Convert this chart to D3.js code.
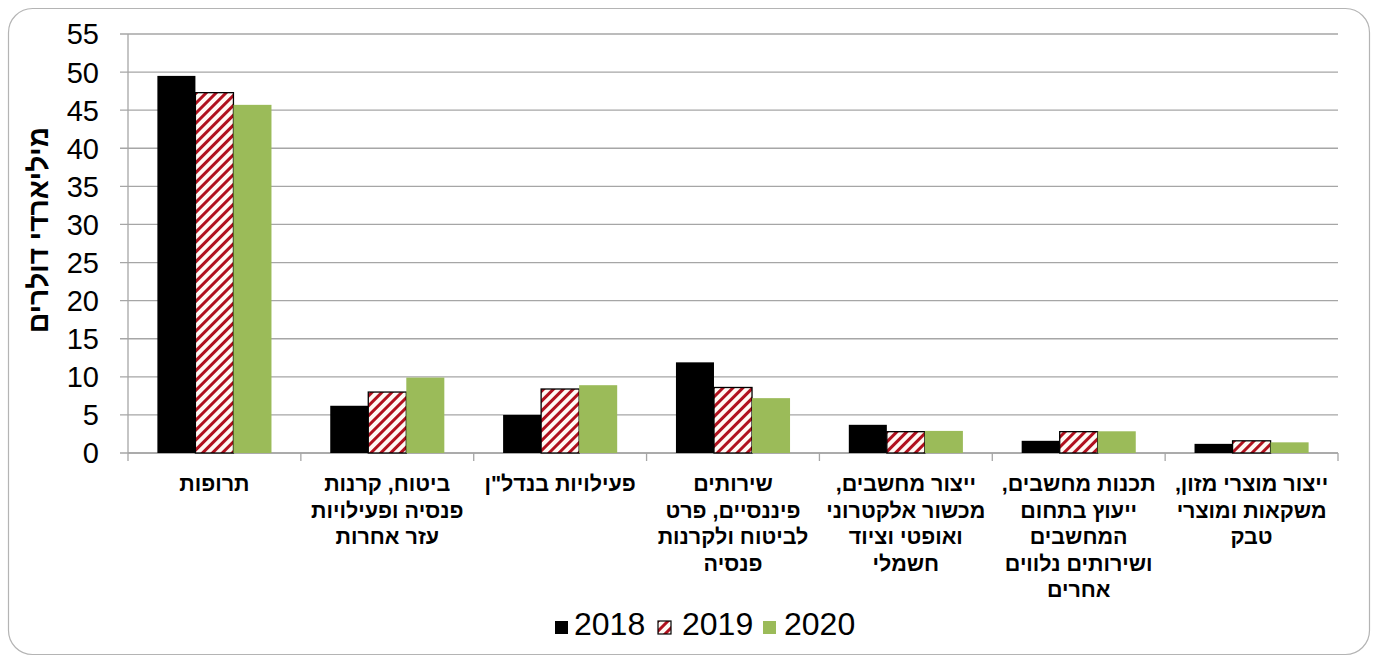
<!DOCTYPE html>
<html><head><meta charset="utf-8">
<script src="https://cdn.jsdelivr.net/npm/d3@7"></script>
<style>body{margin:0;background:#fff}svg{display:block}</style>
</head><body>
<svg id="c" width="1378" height="662"></svg>
<script>
const categories = [
  ["תרופות"],
  ["ביטוח, קרנות","פנסיה ופעילויות","עזר אחרות"],
  ["פעילויות בנדל\"ן"],
  ["שירותים","פיננסיים, פרט","לביטוח ולקרנות","פנסיה"],
  ["ייצור מחשבים,","מכשור אלקטרוני","ואופטי וציוד","חשמלי"],
  ["תכנות מחשבים,","ייעוץ בתחום","המחשבים","ושירותים נלווים","אחרים"],
  ["ייצור מוצרי מזון,","משקאות ומוצרי","טבק"]
];
const seriesNames = ["2018","2019","2020"];
const v2018 = [49.5, 6.2, 5.0, 11.9, 3.7, 1.6, 1.2];
const v2019 = [47.3, 8.0, 8.4, 8.6, 2.8, 2.8, 1.6];
const v2020 = [45.7, 9.9, 8.9, 7.2, 2.9, 2.85, 1.4];
const yTicks = [0,5,10,15,20,25,30,35,40,45,50,55];
const yTitle = "מיליארדי דולרים";

(function(){
const series = [v2018, v2019, v2020];
const fills = ["#000000", "url(#hatch)", "#9bbb59"];
const font = "'Liberation Sans', Arial, sans-serif";

const svg = d3.select("#c");
const defs = svg.append("defs");
const pat = defs.append("pattern").attr("id","hatch").attr("patternUnits","userSpaceOnUse")
  .attr("width",7).attr("height",7).attr("patternTransform","rotate(45)");
pat.append("rect").attr("width",7).attr("height",7).attr("fill","#fffaf5");
pat.append("rect").attr("x",0).attr("width",3).attr("height",7).attr("fill","#b0111e");

svg.append("rect").attr("x",8.5).attr("y",8.5).attr("width",1361).attr("height",646)
  .attr("rx",24).attr("fill","#fff").attr("stroke","#b4b4b4").attr("stroke-width",1.2);

const pL = 128, pR = 1338, pT = 34, pB = 453;
const x0 = d3.scaleBand().domain(d3.range(categories.length)).range([pL,pR]).padding(0);
const groupW = x0.bandwidth()*0.66;
const x1 = d3.scaleBand().domain(d3.range(3)).range([0,groupW]).padding(0);
const y = d3.scaleLinear().domain([0,55]).range([pB,pT]);

const g = svg.append("g");
g.selectAll("line.grid").data(yTicks).join("line")
  .attr("x1",pL-8).attr("x2",pR).attr("y1",d=>y(d)).attr("y2",d=>y(d))
  .attr("stroke","#a6a6a6").attr("stroke-width",1.3);
g.append("line").attr("x1",pL).attr("x2",pL).attr("y1",pT).attr("y2",pB)
  .attr("stroke","#a6a6a6").attr("stroke-width",1.3);
g.selectAll("text.yt").data(yTicks).join("text")
  .attr("x",99).attr("y",d=>y(d)).attr("dy","0.36em")
  .attr("text-anchor","end").attr("font-family",font).attr("font-size",29)
  .attr("fill","#000").text(d=>d);

categories.forEach((c,i)=>{
  const gx = x0(i) + (x0.bandwidth()-groupW)/2;
  series.forEach((s,j)=>{
    svg.append("rect").attr("x",gx+x1(j)).attr("y",y(s[i]))
      .attr("width",x1.bandwidth()).attr("height",y(0)-y(s[i]))
      .attr("fill",fills[j])
      .attr("stroke", j===1 ? "#000" : "none").attr("stroke-width", j===1 ? 1.3 : 0);
  });
});

g.append("line").attr("x1",pL).attr("x2",pR).attr("y1",pB).attr("y2",pB)
  .attr("stroke","#a6a6a6").attr("stroke-width",1.3);
const bounds = d3.range(categories.length+1).map(i => i<categories.length ? x0(i) : pR);
g.selectAll("line.xt").data(bounds).join("line")
  .attr("x1",d=>d).attr("x2",d=>d).attr("y1",pB).attr("y2",pB+8)
  .attr("stroke","#a6a6a6").attr("stroke-width",1.3);

categories.forEach((lines,i)=>{
  const cx = x0(i) + x0.bandwidth()/2;
  const t = svg.append("text").attr("text-anchor","middle").attr("direction","rtl")
    .attr("font-family",font).attr("font-size",21.5).attr("font-weight","bold").attr("fill","#000");
  lines.forEach((l,k)=>{
    t.append("tspan").attr("x",cx).attr("y",491 + k*26.5).text(l);
  });
});

svg.append("text").attr("transform","translate(48,230) rotate(-90)")
  .attr("text-anchor","middle").attr("direction","rtl")
  .attr("font-family",font).attr("font-size",28).attr("font-weight","bold")
  .attr("fill","#000").text(yTitle);

const legSq = [555, 658, 763];
const legTx = [574, 682, 784];
seriesNames.forEach((n,j)=>{
  svg.append("rect").attr("x",legSq[j]).attr("y",621).attr("width",13).attr("height",13)
    .attr("fill",fills[j]).attr("stroke", j===1?"#000":"none").attr("stroke-width",1.2);
  svg.append("text").attr("x",legTx[j]).attr("y",635)
    .attr("font-family",font).attr("font-size",32).attr("fill","#000").text(n);
});
})();
</script>
</body></html>
